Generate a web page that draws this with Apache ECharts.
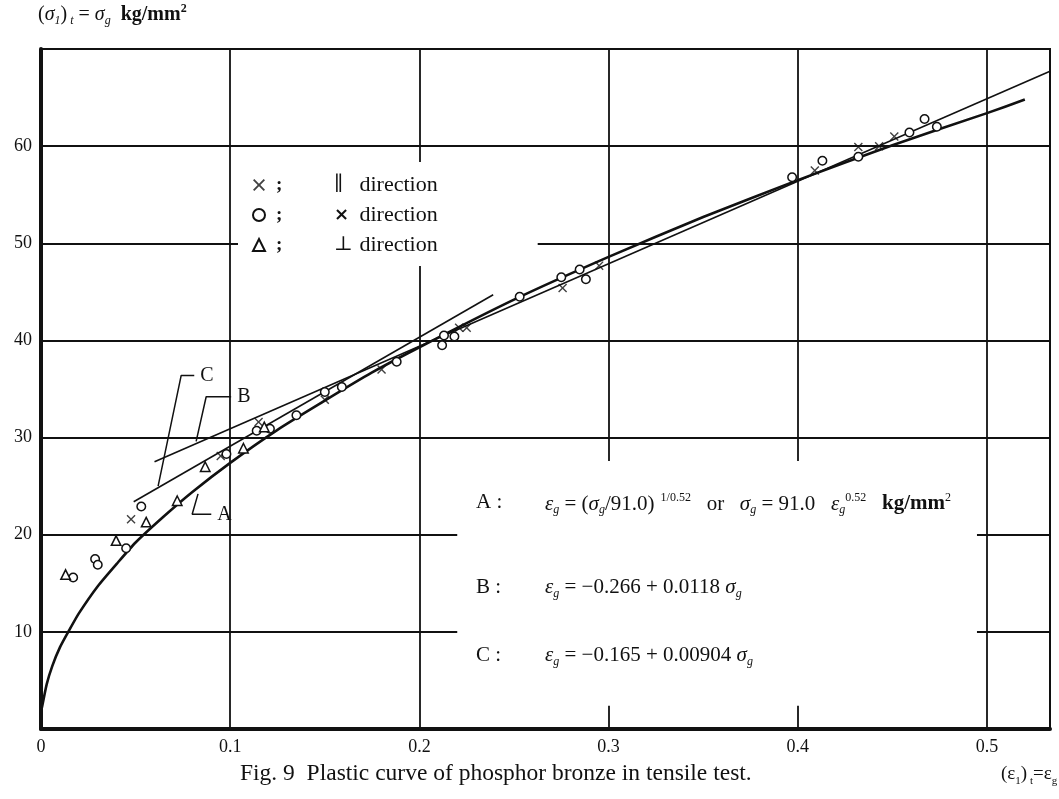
<!DOCTYPE html>
<html>
<head>
<meta charset="utf-8">
<script src="https://cdn.jsdelivr.net/npm/echarts@6/dist/echarts.min.js"></script>
<style>
  html, body { margin: 0; padding: 0; background: #fff; }
  #chart { width: 1059px; height: 799px; }
</style>
</head>
<body>
<div id="chart"></div>
<script>
// strain (eps_g) / stress (sigma_g, kg/mm2)
const xTicks = [0, 0.1, 0.2, 0.3, 0.4, 0.5];
const yTicks = [10, 20, 30, 40, 50, 60];

// curve A : sigma = 91.0 eps^0.52
const curveA = [
  [0.0005, 2.2], [0.003, 4.6], [0.006, 6.5], [0.01, 8.4], [0.015, 10.2],
  [0.02, 11.9], [0.03, 14.7], [0.04, 17.0], [0.05, 19.2], [0.065, 21.9],
  [0.08, 24.4], [0.1, 27.4], [0.125, 30.8], [0.15, 33.8], [0.175, 36.7],
  [0.2, 39.3], [0.25, 44.2], [0.3, 48.6], [0.35, 52.7], [0.4, 56.5],
  [0.45, 60.1], [0.5, 63.4], [0.52, 64.8]
];
// straight lines B and C (end points)
const lineB = [[0.06, 27.5], [0.5333, 67.7]];
const lineC = [[0.049, 23.4], [0.239, 44.7]];

// label leaders
const leaderA = [[0.083, 24.2], [0.0799, 22.1], [0.09, 22.1]];
const leaderB = [[0.082, 29.6], [0.0873, 34.2], [0.1005, 34.2]];
const leaderC = [[0.0619, 25.0], [0.0741, 36.4], [0.081, 36.4]];

// test points
const ptsParallel = [
  [0.0476, 21.6], [0.095, 28.1], [0.115, 31.6], [0.150, 33.9], [0.180, 37.0],
  [0.221, 41.3], [0.225, 41.3], [0.2757, 45.4], [0.295, 47.7], [0.409, 57.5],
  [0.432, 59.9], [0.443, 60.0], [0.451, 61.0]
];
const ptsCross = [
  [0.017, 15.6], [0.0286, 17.5], [0.030, 16.9], [0.045, 18.6], [0.053, 22.9],
  [0.098, 28.3], [0.114, 30.7], [0.121, 30.9], [0.135, 32.3], [0.150, 34.7],
  [0.159, 35.2], [0.188, 37.8], [0.212, 39.5], [0.213, 40.5], [0.2185, 40.4],
  [0.253, 44.5], [0.275, 46.5], [0.2847, 47.3], [0.288, 46.3], [0.397, 56.8],
  [0.413, 58.5], [0.432, 58.9], [0.459, 61.4], [0.467, 62.8], [0.4735, 62.0]
];
const ptsPerp = [
  [0.013, 15.9], [0.0397, 19.4], [0.0556, 21.3], [0.072, 23.5], [0.0868, 27.0],
  [0.107, 28.9], [0.118, 31.1]
];

const legendText = {
  'x': '{s|;}{g|\u2225} direction',
  'o': '{s|;}{b|\u00d7} direction',
  't': '{s|;}{g|\u22a5} direction'
};

const serif = '"Liberation Serif", "DejaVu Serif", serif';
const crossPath = 'path://M0,1.1L1.1,0L5,3.9L8.9,0L10,1.1L6.1,5L10,8.9L8.9,10L5,6.1L1.1,10L0,8.9L3.9,5Z';

const chartDom = document.getElementById('chart');
const myChart = echarts.init(chartDom);

const eqStyle = {
  t: { fontSize: 21, fontFamily: serif, lineHeight: 24, verticalAlign: 'middle' },
  i: { fontSize: 21, fontFamily: serif, fontStyle: 'italic', lineHeight: 24, verticalAlign: 'middle' },
  sb: { fontSize: 12, fontFamily: serif, fontStyle: 'italic', lineHeight: 12, verticalAlign: 'bottom' },
  sp: { fontSize: 12, fontFamily: serif, lineHeight: 12, verticalAlign: 'top' },
  bo: { fontSize: 21, fontFamily: serif, fontWeight: 'bold', lineHeight: 24, verticalAlign: 'middle' }
};

const option = {
  animation: false,
  backgroundColor: '#fff',
  grid: {
    left: 41, right: 9, top: 49, bottom: 70,
    show: true, borderColor: '#111', borderWidth: 2
  },
  legend: {
    orient: 'vertical',
    left: 238,
    top: 162,
    padding: [12, 100, 10, 14],
    backgroundColor: '#fff',
    itemWidth: 12,
    itemHeight: 12,
    itemGap: 8,
    data: ['x', 'o', 't'],
    formatter: name => legendText[name],
    textStyle: {
      fontFamily: serif, fontSize: 22, color: '#111', lineHeight: 21,
      rich: {
        s: { width: 58, fontSize: 19, fontFamily: serif, fontWeight: 'bold', padding: [0, 0, 0, 6] },
        g: { width: 20, fontSize: 20, fontFamily: serif },
        b: { width: 20, fontSize: 18, fontFamily: 'DejaVu Sans', fontWeight: 'bold' }
      }
    }
  },
  xAxis: {
    type: 'value',
    min: 0, max: 0.5333, interval: 0.1,
    axisLine: { lineStyle: { color: '#111', width: 4 } },
    axisTick: { show: false },
    splitLine: { lineStyle: { color: '#111', width: 1.8 } },
    axisLabel: {
      showMaxLabel: false,
      margin: 9,
      color: '#111', fontFamily: serif, fontSize: 18,
      formatter: v => (v === 0 ? '0' : v.toFixed(1))
    }
  },
  yAxis: {
    type: 'value',
    min: 0, max: 70, interval: 10,
    axisLine: { show: true, lineStyle: { color: '#111', width: 4 } },
    axisTick: { show: false },
    splitLine: { lineStyle: { color: '#111', width: 1.8 } },
    axisLabel: {
      margin: 9,
      color: '#111', fontFamily: serif, fontSize: 18,
      formatter: v => (yTicks.includes(v) ? String(v) : '')
    }
  },
  graphic: [
    {
      type: 'text', left: 38, top: 3, z: 100,
      style: {
        text: '{t|(}{i|σ}{sb|1}{t|)}{sb| t}{t| = }{i|σ}{sb|g}{t|  }{bo|kg/mm}{sp|2}',
        rich: {
          t: { fontSize: 20, fontFamily: serif, lineHeight: 24 },
          i: { fontSize: 20, fontFamily: serif, fontStyle: 'italic', lineHeight: 24 },
          sb: { fontSize: 12, fontFamily: serif, fontStyle: 'italic', lineHeight: 12, verticalAlign: 'bottom' },
          sp: { fontSize: 12, fontFamily: serif, fontWeight: 'bold', lineHeight: 12, verticalAlign: 'top' },
          bo: { fontSize: 20, fontFamily: serif, fontWeight: 'bold', lineHeight: 24 }
        },
        fill: '#111'
      }
    },
    {
      type: 'text', left: 240, top: 762, z: 100,
      style: {
        text: 'Fig. 9  Plastic curve of phosphor bronze in tensile test.',
        font: '23.5px ' + serif, fill: '#111'
      }
    },
    {
      type: 'text', left: 1001, top: 765, z: 100,
      style: {
        text: '{t|(}{i|ε}{sb|1}{t|)}{sb| t}{t|=}{i|ε}{sb|g}',
        rich: {
          t: { fontSize: 19, fontFamily: serif, lineHeight: 24 },
          i: { fontSize: 19, fontFamily: serif, lineHeight: 24 },
          sb: { fontSize: 11, fontFamily: serif, lineHeight: 11, verticalAlign: 'bottom' }
        },
        fill: '#111'
      }
    },
    {
      type: 'text', left: 476, top: 492, z: 100,
      style: { text: '{t|A :}', rich: eqStyle, fill: '#111' }
    },
    {
      type: 'text', left: 545, top: 492, z: 100,
      style: {
        text: '{i|ε}{sb|g}{t| = (}{i|σ}{sb|g}{t|/91.0)}{sp|  1/0.52}{t|   or   }{i|σ}{sb|g}{t| = 91.0   }{i|ε}{sb|g}{sp|0.52}{t|   }{bo|kg/mm}{sp|2}',
        rich: eqStyle, fill: '#111'
      }
    },
    {
      type: 'text', left: 476, top: 577, z: 100,
      style: { text: '{t|B :}', rich: eqStyle, fill: '#111' }
    },
    {
      type: 'text', left: 545, top: 577, z: 100,
      style: {
        text: '{i|ε}{sb|g}{t| = −0.266 + 0.0118 }{i|σ}{sb|g}',
        rich: eqStyle, fill: '#111'
      }
    },
    {
      type: 'text', left: 476, top: 645, z: 100,
      style: { text: '{t|C :}', rich: eqStyle, fill: '#111' }
    },
    {
      type: 'text', left: 545, top: 645, z: 100,
      style: {
        text: '{i|ε}{sb|g}{t| = −0.165 + 0.00904 }{i|σ}{sb|g}',
        rich: eqStyle, fill: '#111'
      }
    }
  ],
  series: [
    {
      name: 'A', type: 'line', data: curveA, smooth: 0.2,
      showSymbol: false, lineStyle: { color: '#111', width: 2.6 }, z: 3,
      markArea: {
        silent: true,
        itemStyle: { color: '#fff', opacity: 1 },
        data: [[{ coord: [0.220, 27.6] }, { coord: [0.4947, 2.4] }]]
      }
    },
    {
      name: 'B', type: 'line', data: lineB,
      showSymbol: false, lineStyle: { color: '#111', width: 1.6 }, z: 3
    },
    {
      name: 'C', type: 'line', data: lineC,
      showSymbol: false, lineStyle: { color: '#111', width: 1.6 }, z: 3
    },
    {
      name: 'leadA', type: 'line', data: leaderA, showSymbol: false,
      lineStyle: { color: '#111', width: 1.5 },
      endLabel: { show: true, formatter: 'A', distance: 6, color: '#111', fontFamily: serif, fontSize: 20 }
    },
    {
      name: 'leadB', type: 'line', data: leaderB, showSymbol: false,
      lineStyle: { color: '#111', width: 1.5 },
      endLabel: { show: true, formatter: 'B', distance: 6, color: '#111', fontFamily: serif, fontSize: 20 }
    },
    {
      name: 'leadC', type: 'line', data: leaderC, showSymbol: false,
      lineStyle: { color: '#111', width: 1.5 },
      endLabel: { show: true, formatter: 'C', distance: 6, color: '#111', fontFamily: serif, fontSize: 20 }
    },
    {
      name: 'x', type: 'scatter', data: ptsParallel,
      symbol: crossPath, symbolSize: 9,
      itemStyle: { color: '#111' }, z: 5
    },
    {
      name: 'o', type: 'scatter', data: ptsCross,
      symbol: 'circle', symbolSize: 8.5,
      itemStyle: { color: '#fff', borderColor: '#111', borderWidth: 1.5, opacity: 1 }, z: 5
    },
    {
      name: 't', type: 'scatter', data: ptsPerp,
      symbol: 'triangle', symbolSize: 9.5,
      itemStyle: { color: '#fff', borderColor: '#111', borderWidth: 1.5, opacity: 1 }, z: 5
    }
  ]
};

myChart.setOption(option);
</script>
</body>
</html>
